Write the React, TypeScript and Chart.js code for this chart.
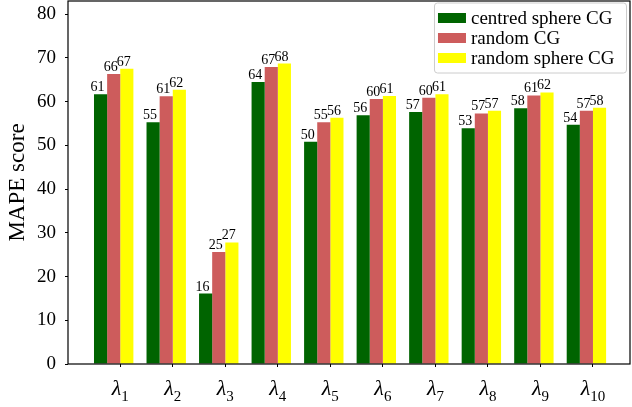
import React, { useEffect, useRef } from 'react';
import { Chart, registerables } from 'chart.js';

Chart.register(...registerables);

// ---- data ----
const categories = ['λ_1', 'λ_2', 'λ_3', 'λ_4', 'λ_5', 'λ_6', 'λ_7', 'λ_8', 'λ_9', 'λ_10'];
const seriesNames = ['centred sphere CG', 'random CG', 'random sphere CG'];
const centredSphereCG = [61.7, 55.3, 16.1, 64.5, 50.8, 56.9, 57.6, 53.9, 58.5, 54.7];
const randomCG = [66.3, 61.2, 25.6, 67.9, 55.3, 60.6, 60.9, 57.3, 61.4, 57.9];
const randomSphereCG = [67.5, 62.7, 27.8, 68.7, 56.3, 61.3, 61.7, 57.9, 62.1, 58.6];
const seriesColors = ['#006400', '#CD5C5C', '#FFFF00'];
const yMin = 0;
const yMax = 83;
const yStep = 10;

const SERIF = '"Liberation Serif", "DejaVu Serif", serif';

const framePlugin = {
  id: 'frame',
  afterDatasetsDraw(chart: any) {
    const { ctx, chartArea } = chart;
    ctx.save();
    ctx.strokeStyle = '#000';
    ctx.lineWidth = 1.2;
    ctx.strokeRect(chartArea.left, chartArea.top, chartArea.right - chartArea.left, chartArea.bottom - chartArea.top);
    ctx.restore();
  },
};

const valueLabelsPlugin = {
  id: 'valueLabels',
  afterDatasetsDraw(chart: any) {
    const ctx = chart.ctx;
    ctx.save();
    ctx.font = `14px ${SERIF}`;
    ctx.fillStyle = '#000';
    ctx.textAlign = 'center';
    ctx.textBaseline = 'alphabetic';
    chart.data.datasets.forEach((ds: any, di: number) => {
      const meta = chart.getDatasetMeta(di);
      meta.data.forEach((el: any, i: number) => {
        const v = ds.data[i].y;
        ctx.fillText(String(Math.floor(v)), el.x - 3, el.y - 3);
      });
    });
    ctx.restore();
  },
};

const xLabelsPlugin = {
  id: 'xLabels',
  afterDraw(chart: any) {
    const { ctx, chartArea } = chart;
    const xs = chart.scales.x;
    ctx.save();
    ctx.fillStyle = '#000';
    ctx.textBaseline = 'alphabetic';
    ctx.textAlign = 'left';
    xs.ticks.forEach((t: any, i: number) => {
      const [sym, sub] = String(categories[i]).split('_');
      const x = xs.getPixelForValue(t.value);
      ctx.font = `italic 22px ${SERIF}`;
      const w1 = ctx.measureText(sym).width;
      ctx.font = `15px ${SERIF}`;
      const w2 = ctx.measureText(sub).width;
      const start = x - (w1 + w2) / 2;
      const base = chartArea.bottom + 31;
      ctx.font = `italic 22px ${SERIF}`;
      ctx.fillText(sym, start, base);
      ctx.font = `15px ${SERIF}`;
      ctx.fillText(sub, start + w1, base + 6);
    });
    ctx.restore();
  },
};

const legendPlugin = {
  id: 'boxLegend',
  afterDraw(chart: any) {
    const { ctx, chartArea } = chart;
    const ds = chart.data.datasets;
    ctx.save();
    ctx.font = `19px ${SERIF}`;
    const textW = Math.max(...ds.map((d: any) => ctx.measureText(d.label).width));
    const padL = 3.5, patchW = 28, patchH = 10, gap = 5, padR = 12, rowH = 20, padT = 5;
    const boxW = padL + patchW + gap + textW + padR;
    const boxH = padT * 2 + rowH * ds.length;
    const right = chartArea.right - 3.5;
    const top = chartArea.top + 2;
    const left = right - boxW;
    ctx.beginPath();
    if ((ctx as any).roundRect) (ctx as any).roundRect(left, top, boxW, boxH, 3);
    else ctx.rect(left, top, boxW, boxH);
    ctx.fillStyle = 'rgba(255,255,255,0.85)';
    ctx.fill();
    ctx.strokeStyle = '#cccccc';
    ctx.lineWidth = 1;
    ctx.stroke();
    ctx.textBaseline = 'middle';
    ctx.textAlign = 'left';
    ds.forEach((d: any, i: number) => {
      const cy = top + padT + rowH * (i + 0.5);
      ctx.fillStyle = d.backgroundColor;
      ctx.fillRect(left + padL, cy - patchH / 2, patchW, patchH);
      ctx.fillStyle = '#000';
      ctx.fillText(d.label, left + padL + patchW + gap, cy + 1);
    });
    ctx.restore();
  },
};

export default function App() {
  const canvasRef = useRef<HTMLCanvasElement | null>(null);

  useEffect(() => {
    document.body.style.margin = '0';
    const canvas = canvasRef.current;
    if (!canvas) return;
    const seriesValues = [centredSphereCG, randomCG, randomSphereCG];
    const chart = new Chart(canvas, {
      type: 'bar',
      data: {
        datasets: seriesValues.map((vals, si) => ({
          label: seriesNames[si],
          data: vals.map((v, i) => ({ x: i, y: v })),
          backgroundColor: seriesColors[si],
          borderWidth: 0,
          categoryPercentage: 0.75,
          barPercentage: 1.0,
        })),
      },
      options: {
        animation: false,
        responsive: false,
        devicePixelRatio: 1,
        layout: { padding: { top: 1, right: 2, left: 0, bottom: 0 } },
        plugins: {
          legend: { display: false },
          tooltip: { enabled: false },
        },
        scales: {
          x: {
            type: 'linear',
            min: -0.87,
            max: 9.83,
            offset: false,
            grid: { offset: false, drawOnChartArea: false, drawTicks: true, tickLength: 3, tickColor: '#000' },
            border: { display: false },
            ticks: { display: false },
            afterBuildTicks: (scale: any) => {
              scale.ticks = categories.map((_, i) => ({ value: i + 0.125 }));
            },
            afterFit: (scale: any) => {
              scale.height = 43;
              scale.paddingLeft = 0;
              scale.paddingRight = 0;
            },
          },
          y: {
            type: 'linear',
            min: yMin,
            max: yMax,
            grid: { drawOnChartArea: false, drawTicks: true, tickLength: 3, tickColor: '#000' },
            border: { display: false },
            ticks: {
              stepSize: yStep,
              includeBounds: false,
              color: '#000',
              padding: 9,
              font: { family: SERIF, size: 19 },
            },
            title: {
              display: true,
              text: 'MAPE score',
              color: '#000',
              font: { family: SERIF, size: 23 },
              padding: { top: 4, bottom: 0 },
            },
            afterFit: (scale: any) => {
              scale.width = 68;
              scale.paddingTop = 0;
              scale.paddingBottom = 0;
            },
          },
        },
      },
      plugins: [framePlugin, valueLabelsPlugin, xLabelsPlugin, legendPlugin],
    } as any);
    return () => chart.destroy();
  }, []);

  return (
    <div style={{ width: 632, height: 407 }}>
      <canvas ref={canvasRef} width={632} height={407} style={{ display: 'block' }} />
    </div>
  );
}
